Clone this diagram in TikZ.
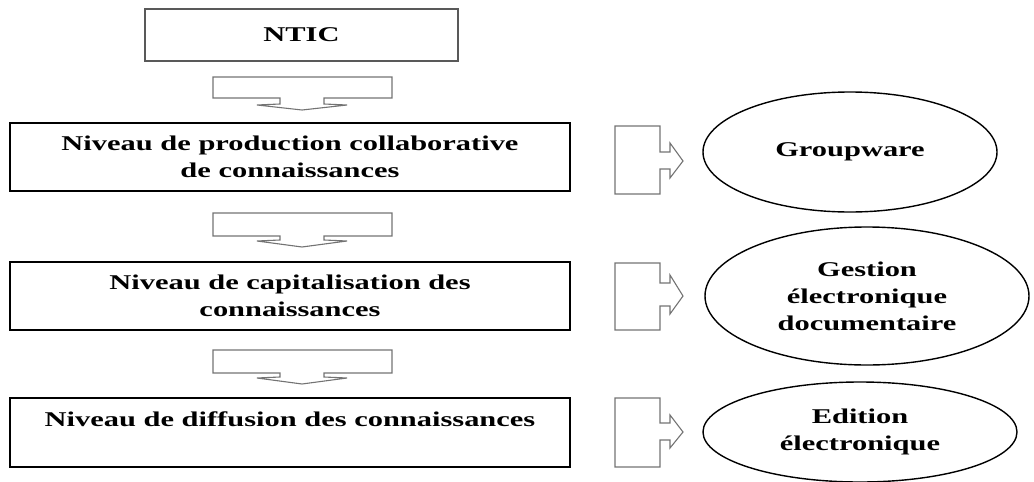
\documentclass[tikz,border=0pt]{standalone}
\usepackage{fontspec}
\usepackage{tikz}
\usetikzlibrary{shapes.geometric}
\newfontfamily\diagfont{Liberation Serif}[FakeStretch=1.45]

\begin{document}
\begin{tikzpicture}[x=1pt, y=-1pt,
    every node/.style={font=\diagfont\bfseries\fontsize{21}{27}\selectfont, align=center, inner sep=0pt},
    level/.style={draw=black, line width=1.6pt, minimum width=560pt, minimum height=68pt},
    tool/.style={draw=black, line width=1.4pt, ellipse},
    blockarrow/.style={draw=black!55, line width=1.1pt, line join=miter}]
    \useasboundingbox (0,0) rectangle (1034,482);
    \node[level, draw=black!65, minimum width=313pt, minimum height=52pt] (ntic) at (301.5,35) {NTIC};
    \node[level] (prod) at (290,157) {Niveau de production collaborative\\de connaissances};
    \node[level] (capi) at (290,296) {Niveau de capitalisation des\\connaissances};
    \node[level, minimum height=69pt] (diff) at (290,432.5) {Niveau de diffusion des connaissances\\\mbox{}};
    \node[tool, minimum width=294pt, minimum height=120pt] (group) at (850,152) {Groupware};
    \node[tool, minimum width=324pt, minimum height=138pt] (ged) at (867,296) {Gestion\\électronique\\documentaire};
    \node[tool, minimum width=314pt, minimum height=100pt] (edit) at (860,432) {Edition\\électronique};
    \coordinate (d1) at (213,77);
    \coordinate (d2) at (213,213);
    \coordinate (d3) at (213,350);
    \coordinate (r1) at (615,126);
    \coordinate (r2) at (615,263);
    \coordinate (r3) at (615,398);
    \draw[blockarrow] (d1) -- ++(179,0) -- ++(0,21) -- ++(-68,0) -- ++(0,6) -- ++(23,1) -- ++(-45,5) -- ++(-45,-5) -- ++(23,-1) -- ++(0,-6) -- ++(-67,0) -- cycle;
    \draw[blockarrow] (d2) -- ++(179,0) -- ++(0,23) -- ++(-68,0) -- ++(0,4) -- ++(23,1) -- ++(-45,6) -- ++(-45,-6) -- ++(23,-1) -- ++(0,-4) -- ++(-67,0) -- cycle;
    \draw[blockarrow] (d3) -- ++(179,0) -- ++(0,23) -- ++(-68,0) -- ++(0,4) -- ++(23,1) -- ++(-45,6) -- ++(-45,-6) -- ++(23,-1) -- ++(0,-4) -- ++(-67,0) -- cycle;
    \draw[blockarrow] (r1) -- ++(45,0) -- ++(0,26) -- ++(10,0) -- ++(0,-9) -- ++(13,18) -- ++(-13,17) -- ++(0,-9) -- ++(-10,0) -- ++(0,25) -- ++(-45,0) -- cycle;
    \draw[blockarrow] (r2) -- ++(45,0) -- ++(0,20) -- ++(10,0) -- ++(0,-8) -- ++(13,21) -- ++(-13,18) -- ++(0,-8) -- ++(-10,0) -- ++(0,24) -- ++(-45,0) -- cycle;
    \draw[blockarrow] (r3) -- ++(45,0) -- ++(0,25) -- ++(10,0) -- ++(0,-8) -- ++(13,17) -- ++(-13,16) -- ++(0,-8) -- ++(-10,0) -- ++(0,27) -- ++(-45,0) -- cycle;
\end{tikzpicture}
\end{document}
